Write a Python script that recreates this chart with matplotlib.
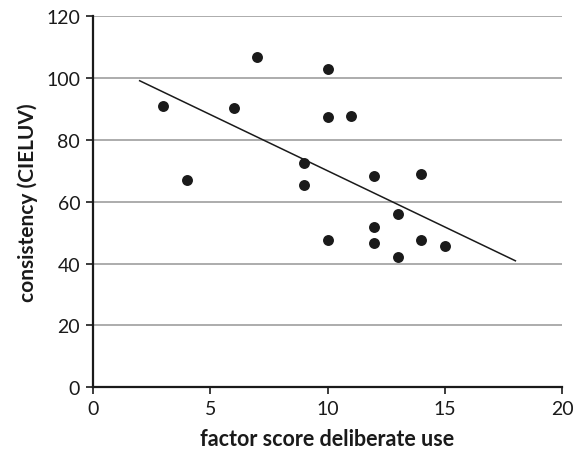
import matplotlib
matplotlib.use("Agg")
import matplotlib.pyplot as plt
import numpy as np

# data
deliberate_use = [3, 4, 6, 7, 9, 9, 10, 10, 10, 11, 12, 12, 12, 13, 13, 14, 14, 15]
consistency = [91.0, 67.2, 90.3, 106.7, 72.4, 65.5, 102.8, 87.5, 47.6, 87.7,
               68.2, 51.9, 46.7, 56.1, 42.2, 69.0, 47.6, 45.8]
trend_range = [2, 18]

xticks = [0, 5, 10, 15, 20]
yticks = [0, 20, 40, 60, 80, 100, 120]

plt.rcParams['font.family'] = ['Lato', 'DejaVu Sans']

fig = plt.figure(figsize=(5.74, 4.52), dpi=100)
ax = fig.add_axes([0.1615, 0.1409, 0.9797 - 0.1615, 0.9617 - 0.1409])

ax.scatter(deliberate_use, consistency, s=62, color='#1a1a1a', zorder=3, linewidths=0)

slope, intercept = np.polyfit(deliberate_use, consistency, 1)
tx = np.array(trend_range)
ax.plot(tx, slope * tx + intercept, color='#1a1a1a', lw=1.1, zorder=2)

ax.set_xlim(0, 20)
ax.set_ylim(0, 120)
ax.set_xticks(xticks)
ax.set_yticks(yticks)
ax.yaxis.grid(True, color='#a6a6a6', lw=1.3)
ax.set_axisbelow(True)

for side in ['top', 'right']:
    ax.spines[side].set_visible(False)
for side in ['left', 'bottom']:
    ax.spines[side].set_linewidth(1.6)
    ax.spines[side].set_color('#1a1a1a')

ax.tick_params(axis='both', direction='out', length=5, width=1.2,
               labelsize=14, colors='#1a1a1a', pad=4)

ax.set_xlabel('factor score deliberate use', fontsize=15.5, fontweight='bold',
              color='#1a1a1a', labelpad=8)
ax.set_ylabel('consistency (CIELUV)', fontsize=15, fontweight='bold',
              color='#1a1a1a', labelpad=6)

fig.savefig('out.png', dpi=100)
